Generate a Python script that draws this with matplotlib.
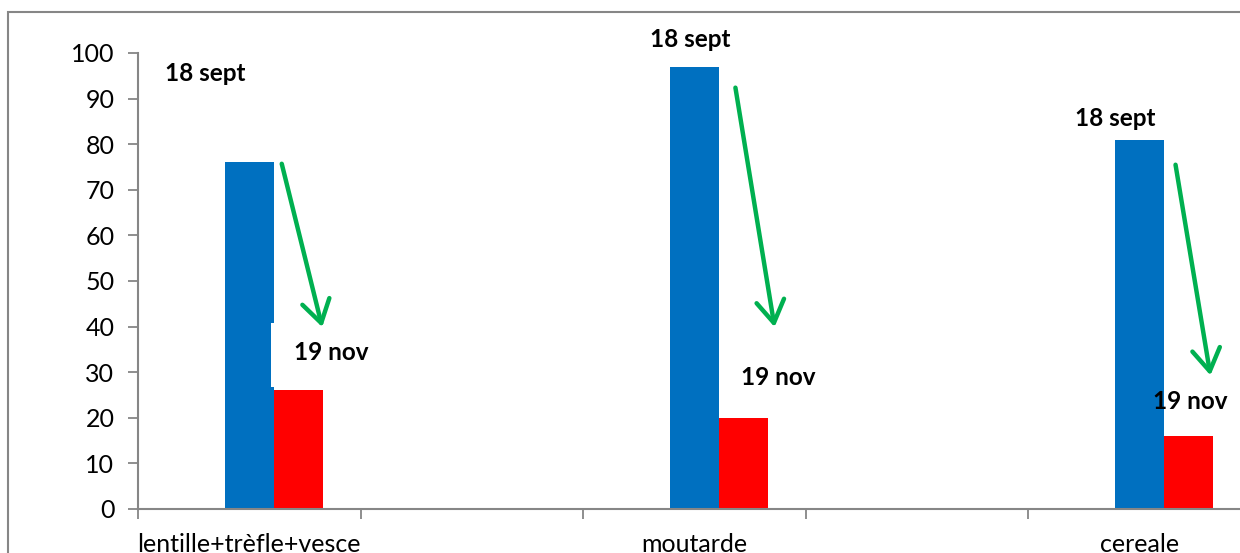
import matplotlib.pyplot as plt
from matplotlib.patches import Rectangle, FancyArrowPatch
import numpy as np

# categories (empty slots in between as in the original sheet)
categories = ['lentille+trèfle+vesce', '', 'moutarde', '', 'cereale']
sept_18 = [76, np.nan, 97, np.nan, 81]
nov_19 = [26, np.nan, 20, np.nan, 16]

# annotation texts (x, y in data units)
sept_labels = [(-0.38, 95.4), (1.80, 102.9), (3.71, 85.7)]
nov_labels = [(0.20, 34.4), (2.21, 28.9), (4.06, 23.5)]
arrows = [((0.143, 76.3), (0.331, 39.3)),
          ((2.183, 93.0), (2.363, 39.3)),
          ((4.161, 76.1), (4.322, 28.7))]

plt.rcParams['font.family'] = ['Lato', 'DejaVu Sans']
grey = '#868686'

fig = plt.figure(figsize=(12.4, 5.53), dpi=100)
ax = fig.add_axes([138/1240, 44/553, 1112.5/1240, 456/553])

x = np.arange(len(categories))
w = 0.22
ax.bar(x, sept_18, width=w, color='#0070C0', zorder=2)
ax.bar(x + w, nov_19, width=w, color='#FF0000', zorder=2)

# white text box of the first "19 nov" that hides a strip of the blue bar
ax.add_patch(Rectangle((x[0] + w/2 - 0.013, 26.7), 0.3, 14.1,
                       facecolor='white', edgecolor='none', zorder=3))

for (tx, ty) in sept_labels:
    ax.text(tx, ty, '18 sept', fontsize=17.5, fontweight='bold', va='center',
            ha='left', clip_on=False, zorder=5)
for (tx, ty) in nov_labels:
    ax.text(tx, ty, '19 nov', fontsize=17.5, fontweight='bold', va='center',
            ha='left', clip_on=False, zorder=5)
for (p0, p1) in arrows:
    ax.add_patch(FancyArrowPatch(p0, p1, arrowstyle='->,head_length=0.8,head_width=0.5',
                                 mutation_scale=20, color='#00B050', lw=3.2,
                                 zorder=4, clip_on=False))

ax.set_xlim(-0.5, len(categories) - 0.5)
ax.set_ylim(0, 100)
ax.set_yticks(range(0, 101, 10))
ax.set_xticks(np.arange(len(categories) + 1) - 0.5)
ax.set_xticklabels([])
ax.set_xticks(x, minor=True)
ax.set_xticklabels(categories, minor=True)
ax.tick_params(axis='x', which='minor', length=0, pad=17, labelsize=18)
ax.tick_params(axis='x', which='major', length=7, width=1.3, color=grey, direction='out')
ax.tick_params(axis='y', length=7, width=1.3, color=grey, pad=10, labelsize=18)

for s in ['top', 'right']:
    ax.spines[s].set_visible(False)
for s in ['left', 'bottom']:
    ax.spines[s].set_color(grey)
    ax.spines[s].set_linewidth(1.5)

# outer chart frame
fig.patches.append(Rectangle((8/1240, -0.1), 1.2, 1.1 - 12/553, transform=fig.transFigure,
                             fill=False, edgecolor=grey, linewidth=1.5))

fig.savefig('out.png', dpi=100)
